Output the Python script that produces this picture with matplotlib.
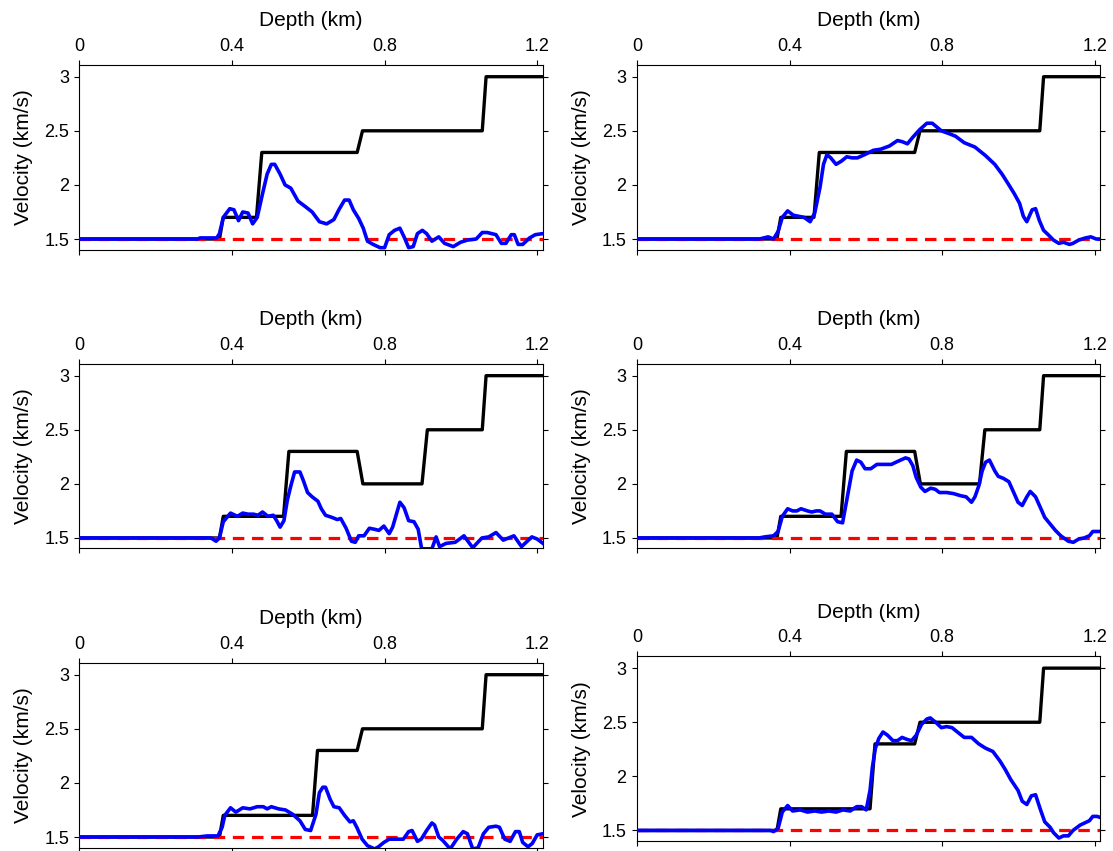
import matplotlib
matplotlib.use("Agg")
from matplotlib import pyplot as plt
from matplotlib.transforms import Bbox, TransformedBbox

plt.rcParams['font.family'] = ['Liberation Sans', 'DejaVu Sans']

# true models (depth km, velocity km/s)
true_x_a = [0, 0.367, 0.377, 0.464, 0.478, 0.728, 0.742, 1.056, 1.066, 1.215]
true_v_a = [1.5, 1.5, 1.7, 1.7, 2.3, 2.3, 2.5, 2.5, 3.0, 3.0]
true_x_b = [0, 0.367, 0.377, 0.535, 0.549, 0.728, 0.743, 0.898, 0.912, 1.056, 1.066, 1.215]
true_v_b = [1.5, 1.5, 1.7, 1.7, 2.3, 2.3, 2.0, 2.0, 2.5, 2.5, 3.0, 3.0]
true_x_c = [0, 0.367, 0.377, 0.611, 0.624, 0.728, 0.742, 1.056, 1.066, 1.215]
true_v_c = [1.5, 1.5, 1.7, 1.7, 2.3, 2.3, 2.5, 2.5, 3.0, 3.0]

# initial model
init_x = [0, 1.215]
init_v = [1.5, 1.5]

# inverted models
inv_x1 = [0, 0.31, 0.316, 0.36, 0.367, 0.377, 0.394, 0.405, 0.417, 0.428, 0.442, 0.454, 0.466, 0.48,
          0.492, 0.503, 0.512, 0.526, 0.539, 0.554, 0.573, 0.592, 0.61, 0.629, 0.648, 0.667, 0.68,
          0.695, 0.707, 0.718, 0.732, 0.744, 0.755, 0.77, 0.788, 0.80, 0.812, 0.826, 0.84, 0.851,
          0.863, 0.875, 0.886, 0.899, 0.91, 0.924, 0.942, 0.957, 0.98, 0.999, 1.017, 1.04, 1.056,
          1.069, 1.092, 1.106, 1.118, 1.132, 1.14, 1.15, 1.162, 1.18, 1.195, 1.215]
inv_v1 = [1.5, 1.5, 1.51, 1.51, 1.55, 1.70, 1.78, 1.77, 1.67, 1.75, 1.74, 1.64, 1.70, 1.92,
          2.10, 2.19, 2.19, 2.10, 2.0, 1.97, 1.85, 1.80, 1.75, 1.66, 1.64, 1.68, 1.77,
          1.86, 1.86, 1.77, 1.69, 1.60, 1.48, 1.45, 1.42, 1.42, 1.54, 1.58, 1.60, 1.52,
          1.42, 1.43, 1.55, 1.58, 1.55, 1.48, 1.52, 1.46, 1.43, 1.47, 1.49, 1.50, 1.56,
          1.56, 1.54, 1.46, 1.46, 1.54, 1.54, 1.45, 1.45, 1.51, 1.54, 1.55]

inv_x2 = [0, 0.321, 0.344, 0.358, 0.37, 0.381, 0.395, 0.41, 0.424, 0.438, 0.454, 0.466, 0.48,
          0.489, 0.498, 0.508, 0.522, 0.536, 0.55, 0.564, 0.578, 0.597, 0.62, 0.639, 0.662, 0.683,
          0.695, 0.709, 0.723, 0.741, 0.76, 0.774, 0.798, 0.821, 0.835, 0.858, 0.886, 0.914, 0.938,
          0.957, 0.975, 0.989, 1.003, 1.013, 1.022, 1.036, 1.045, 1.055, 1.066, 1.078, 1.092,
          1.106, 1.118, 1.134, 1.143, 1.158, 1.176, 1.19, 1.204, 1.215]
inv_v2 = [1.5, 1.5, 1.52, 1.50, 1.57, 1.70, 1.76, 1.72, 1.71, 1.70, 1.66, 1.74, 1.98,
          2.19, 2.28, 2.25, 2.19, 2.22, 2.26, 2.25, 2.25, 2.28, 2.32, 2.33, 2.36, 2.41,
          2.40, 2.38, 2.44, 2.51, 2.57, 2.57, 2.50, 2.47, 2.45, 2.39, 2.35, 2.27, 2.19,
          2.10, 2.0, 1.92, 1.83, 1.71, 1.66, 1.77, 1.78, 1.67, 1.58, 1.54, 1.49,
          1.46, 1.47, 1.45, 1.46, 1.49, 1.51, 1.52, 1.50, 1.50]

inv_x3 = [0, 0.345, 0.358, 0.367, 0.377, 0.396, 0.414, 0.428, 0.442, 0.456, 0.468, 0.48, 0.494,
          0.508, 0.517, 0.526, 0.536, 0.545, 0.554, 0.564, 0.578, 0.587, 0.598, 0.61, 0.625, 0.634,
          0.645, 0.662, 0.676, 0.685, 0.699, 0.713, 0.723, 0.732, 0.746, 0.76, 0.774, 0.785, 0.798,
          0.812, 0.821, 0.84, 0.851, 0.863, 0.877, 0.888, 0.897, 0.91, 0.924, 0.935, 0.944, 0.961,
          0.985, 1.008, 1.031, 1.055, 1.073, 1.092, 1.111, 1.139, 1.159, 1.186, 1.2, 1.215]
inv_v3 = [1.5, 1.5, 1.47, 1.50, 1.65, 1.73, 1.70, 1.73, 1.72, 1.72, 1.71, 1.74, 1.70,
          1.71, 1.66, 1.60, 1.66, 1.85, 1.98, 2.11, 2.11, 2.03, 1.92, 1.88, 1.84, 1.77,
          1.71, 1.69, 1.67, 1.68, 1.59, 1.47, 1.46, 1.52, 1.52, 1.59, 1.58, 1.57, 1.61,
          1.54, 1.60, 1.83, 1.78, 1.66, 1.65, 1.58, 1.40, 1.40, 1.40, 1.51, 1.42, 1.45,
          1.46, 1.52, 1.41, 1.50, 1.51, 1.55, 1.48, 1.52, 1.42, 1.51, 1.49, 1.45]

inv_x4 = [0, 0.32, 0.335, 0.358, 0.37, 0.381, 0.395, 0.408, 0.419, 0.43, 0.447, 0.458, 0.47, 0.48,
          0.494, 0.511, 0.526, 0.539, 0.55, 0.564, 0.576, 0.587, 0.598, 0.613, 0.629, 0.648, 0.667,
          0.685, 0.704, 0.713, 0.723, 0.732, 0.744, 0.755, 0.77, 0.782, 0.793, 0.812, 0.83, 0.849,
          0.863, 0.877, 0.886, 0.896, 0.905, 0.914, 0.924, 0.938, 0.947, 0.961, 0.975, 0.989, 0.999,
          1.01, 1.022, 1.031, 1.045, 1.059, 1.069, 1.083, 1.097, 1.111, 1.131, 1.144, 1.158, 1.172,
          1.186, 1.195, 1.215]
inv_v4 = [1.5, 1.5, 1.51, 1.52, 1.56, 1.70, 1.77, 1.75, 1.75, 1.77, 1.75, 1.74, 1.75, 1.75,
          1.72, 1.72, 1.65, 1.64, 1.85, 2.12, 2.22, 2.20, 2.14, 2.14, 2.18, 2.18, 2.18,
          2.21, 2.24, 2.23, 2.17, 2.06, 1.97, 1.93, 1.96, 1.95, 1.92, 1.92, 1.91, 1.89,
          1.88, 1.83, 1.88, 1.98, 2.12, 2.20, 2.22, 2.12, 2.07, 2.05, 2.02, 1.91, 1.83,
          1.80, 1.88, 1.93, 1.88, 1.77, 1.69, 1.63, 1.57, 1.52, 1.47, 1.46, 1.49, 1.50,
          1.52, 1.56, 1.56]

inv_x5 = [0, 0.31, 0.335, 0.363, 0.374, 0.381, 0.396, 0.41, 0.428, 0.447, 0.466, 0.482, 0.492,
          0.503, 0.522, 0.54, 0.559, 0.578, 0.592, 0.606, 0.62, 0.629, 0.638, 0.645, 0.657, 0.667,
          0.681, 0.695, 0.709, 0.718, 0.727, 0.741, 0.755, 0.774, 0.784, 0.798, 0.812, 0.83, 0.849,
          0.863, 0.872, 0.886, 0.896, 0.91, 0.924, 0.931, 0.942, 0.952, 0.972, 0.989, 1.006, 1.017,
          1.031, 1.045, 1.059, 1.073, 1.092, 1.101, 1.115, 1.129, 1.143, 1.153, 1.162, 1.176, 1.187,
          1.2, 1.215]
inv_v5 = [1.5, 1.5, 1.51, 1.51, 1.59, 1.70, 1.77, 1.73, 1.77, 1.76, 1.78, 1.78, 1.76,
          1.78, 1.76, 1.75, 1.71, 1.65, 1.57, 1.56, 1.71, 1.91, 1.96, 1.96, 1.85, 1.78,
          1.77, 1.70, 1.64, 1.65, 1.59, 1.48, 1.42, 1.39, 1.41, 1.45, 1.48, 1.48, 1.48,
          1.55, 1.56, 1.46, 1.48, 1.56, 1.63, 1.61, 1.50, 1.47, 1.39, 1.48, 1.55, 1.53,
          1.39, 1.40, 1.53, 1.59, 1.60, 1.59, 1.48, 1.46, 1.55, 1.55, 1.45, 1.41, 1.44,
          1.52, 1.53]

inv_x6 = [0, 0.35, 0.358, 0.37, 0.381, 0.395, 0.408, 0.428, 0.447, 0.466, 0.484, 0.503, 0.522,
          0.54, 0.559, 0.576, 0.589, 0.601, 0.611, 0.617, 0.625, 0.634, 0.645, 0.657, 0.671, 0.683,
          0.695, 0.709, 0.72, 0.732, 0.746, 0.76, 0.769, 0.783, 0.798, 0.812, 0.826, 0.84, 0.858,
          0.877, 0.896, 0.914, 0.933, 0.952, 0.966, 0.98, 0.999, 1.01, 1.022, 1.034, 1.045, 1.057,
          1.069, 1.083, 1.092, 1.106, 1.118, 1.131, 1.143, 1.162, 1.186, 1.195, 1.206, 1.215]
inv_v6 = [1.5, 1.5, 1.49, 1.52, 1.67, 1.73, 1.68, 1.69, 1.67, 1.68, 1.67, 1.68, 1.67,
          1.69, 1.68, 1.72, 1.72, 1.69, 1.87, 2.08, 2.26, 2.35, 2.41, 2.38, 2.33, 2.33,
          2.36, 2.34, 2.33, 2.38, 2.48, 2.53, 2.54, 2.50, 2.45, 2.46, 2.45, 2.41, 2.36,
          2.36, 2.30, 2.26, 2.23, 2.14, 2.06, 1.97, 1.87, 1.77, 1.74, 1.82, 1.83, 1.70,
          1.58, 1.53, 1.48, 1.43, 1.45, 1.45, 1.50, 1.55, 1.59, 1.63, 1.63, 1.62]

depth_ticks = [0, 0.4, 0.8, 1.2]
depth_labels = ['0', '0.4', '0.8', '1.2']
vel_ticks = [1.5, 2, 2.5, 3]
vel_labels = ['1.5', '2', '2.5', '3']

panels = [
    (true_x_a, true_v_a, inv_x1, inv_v1),
    (true_x_a, true_v_a, inv_x2, inv_v2),
    (true_x_b, true_v_b, inv_x3, inv_v3),
    (true_x_b, true_v_b, inv_x4, inv_v4),
    (true_x_c, true_v_c, inv_x5, inv_v5),
    (true_x_c, true_v_c, inv_x6, inv_v6),
]

# axes rectangles in figure fractions
lefts = [0.0714, 0.5723]
bottoms = [[0.7068, 0.7068], [0.3555, 0.3555], [0.0041, 0.0118]]
w, h = 0.4164, 0.2168

fig = plt.figure(figsize=(11.13, 8.51), dpi=100)

for i, (tx, tv, ix, iv) in enumerate(panels):
    row, col = i // 2, i % 2
    ax = fig.add_axes([lefts[col], bottoms[row][col], w, h])
    ax.plot(tx, tv, color='black', linewidth=2.4, zorder=2)
    ax.plot(init_x, init_v, color='red', linewidth=2.3, linestyle=(0, (3.6, 2.4)), zorder=3)
    ax.plot(ix, iv, color='blue', linewidth=2.6, zorder=4)
    ax.set_xlim(0, 1.215)
    ax.set_ylim(1.403, 3.108)
    ax.xaxis.set_label_position('top')
    ax.xaxis.tick_top()
    ax.set_xticks(depth_ticks)
    ax.set_xticklabels(depth_labels)
    ax.set_yticks(vel_ticks)
    ax.set_yticklabels(vel_labels)
    ax.tick_params(axis='x', which='both', top=True, bottom=True, direction='out',
                   length=3.5, width=0.8, labelsize=13, pad=4)
    ax.tick_params(axis='y', which='both', left=True, right=True, direction='out',
                   length=3.5, width=0.8, labelsize=13, pad=4)
    ax.set_xlabel('Depth (km)', fontsize=15, labelpad=8)
    ax.set_ylabel('Velocity (km/s)', fontsize=15, labelpad=8)
    for s in ax.spines.values():
        s.set_linewidth(0.8)
    if i == 5:
        # the last panel's top label is cut off in the original
        lab = ax.xaxis.label
        lab.set_clip_box(TransformedBbox(Bbox([[0, 0], [1, 1 - 604 / 851]]), fig.transFigure))
        lab.set_clip_on(True)

fig.savefig('out.png', dpi=100)
